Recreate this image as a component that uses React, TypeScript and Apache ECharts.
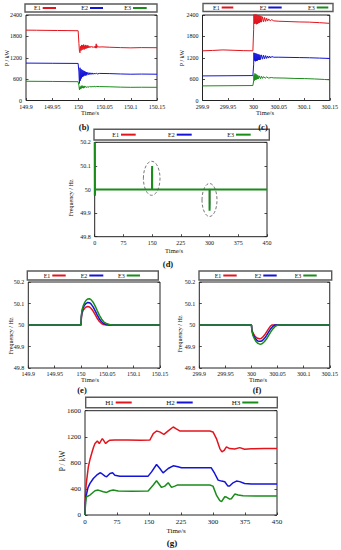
import React, { useEffect, useRef } from "react";
import * as echarts from "echarts";

const FONT = '"Liberation Serif", "Times New Roman", serif';
const RED = "#e3141c";
const BLUE = "#1414d8";
const GREEN = "#1a8c1a";

// (b) active power of ES units around t = 150 s
const bE1: [number, number][] = [
  [149.9, 1975], [149.92, 1972], [149.94, 1968], [149.96, 1965], [149.98, 1962], [149.9995, 1958],
  [150.001, 1600], [150.002, 1380], [150.003, 1340], [150.004, 1520], [150.005, 1400], [150.006, 1560],
  [150.007, 1420], [150.008, 1550], [150.009, 1440], [150.01, 1570], [150.011, 1430], [150.012, 1540],
  [150.013, 1450], [150.014, 1560], [150.015, 1460], [150.016, 1540], [150.017, 1470], [150.018, 1550],
  [150.019, 1480], [150.02, 1530], [150.022, 1480], [150.024, 1525], [150.026, 1490], [150.028, 1515],
  [150.03, 1480], [150.032, 1530], [150.033, 1470], [150.034, 1590], [150.035, 1470], [150.036, 1540],
  [150.038, 1500], [150.045, 1505], [150.06, 1495], [150.08, 1485], [150.1, 1478], [150.12, 1485], [150.15, 1482],
];
const bE2: [number, number][] = [
  [149.9, 1050], [149.95, 1045], [149.9995, 1040],
  [150.001, 800], [150.0015, 620], [150.002, 480], [150.003, 920], [150.004, 560], [150.005, 880],
  [150.006, 620], [150.007, 860], [150.008, 660], [150.009, 840], [150.01, 680], [150.011, 830],
  [150.012, 700], [150.013, 810], [150.014, 700], [150.015, 800], [150.016, 710], [150.018, 790],
  [150.02, 720], [150.022, 780], [150.024, 730], [150.026, 775], [150.028, 735], [150.03, 770],
  [150.032, 740], [150.034, 770], [150.036, 745], [150.04, 760], [150.06, 755], [150.08, 745],
  [150.1, 738], [150.12, 742], [150.15, 738],
];
const bE3: [number, number][] = [
  [149.9, 540], [149.95, 535], [149.9995, 528],
  [150.001, 420], [150.002, 300], [150.003, 380], [150.004, 320], [150.005, 410], [150.006, 340],
  [150.007, 420], [150.008, 350], [150.009, 400], [150.01, 345], [150.011, 410], [150.012, 360],
  [150.014, 400], [150.016, 360], [150.018, 395], [150.02, 370], [150.022, 400], [150.024, 375],
  [150.026, 395], [150.028, 380], [150.03, 400], [150.032, 385], [150.035, 395], [150.04, 390],
  [150.06, 385], [150.08, 375], [150.1, 370], [150.12, 372], [150.15, 370],
];

// (c) active power of ES units around t = 300 s
const cE1: [number, number][] = [
  [299.9, 1395], [299.92, 1405], [299.94, 1420], [299.96, 1410], [299.98, 1400], [299.999, 1395],
  [300.0005, 2000], [300.001, 2420], [300.002, 2150], [300.003, 2440], [300.004, 2160], [300.005, 2430],
  [300.006, 2140], [300.007, 2410], [300.008, 2150], [300.009, 2400], [300.01, 2170], [300.011, 2390],
  [300.012, 2180], [300.013, 2380], [300.014, 2200], [300.015, 2370], [300.016, 2200], [300.018, 2350],
  [300.02, 2210], [300.022, 2330], [300.024, 2220], [300.026, 2310], [300.028, 2230], [300.03, 2290],
  [300.033, 2235], [300.036, 2270], [300.04, 2235], [300.05, 2225], [300.07, 2215], [300.09, 2205],
  [300.11, 2200], [300.13, 2185], [300.15, 2165],
];
const cE2: [number, number][] = [
  [299.9, 690], [299.95, 695], [299.999, 700],
  [300.0005, 1000], [300.001, 1340], [300.002, 1120], [300.003, 1330], [300.004, 1100], [300.005, 1320],
  [300.006, 1110], [300.007, 1310], [300.008, 1120], [300.009, 1300], [300.01, 1140], [300.011, 1290],
  [300.012, 1140], [300.013, 1280], [300.014, 1150], [300.016, 1280], [300.018, 1160], [300.02, 1270],
  [300.022, 1170], [300.024, 1260], [300.026, 1180], [300.028, 1250], [300.03, 1190], [300.032, 1245],
  [300.034, 1195], [300.036, 1235], [300.04, 1215], [300.05, 1215], [300.07, 1210], [300.09, 1205],
  [300.11, 1200], [300.13, 1190], [300.15, 1180],
];
const cE3: [number, number][] = [
  [299.9, 410], [299.95, 415], [299.999, 420],
  [300.0005, 550], [300.001, 720], [300.002, 560], [300.003, 760], [300.004, 580], [300.005, 740],
  [300.006, 590], [300.007, 720], [300.008, 600], [300.009, 700], [300.01, 610], [300.012, 690],
  [300.014, 610], [300.016, 680], [300.018, 620], [300.02, 670], [300.023, 625], [300.026, 660],
  [300.03, 630], [300.035, 645], [300.04, 635], [300.06, 630], [300.08, 620], [300.1, 615],
  [300.12, 605], [300.14, 590], [300.15, 580],
];

// (d) frequency over the whole run
const dE1: [number, number][] = [
  [0, 50.2], [0.3, 49.975], [1, 50], [149.99, 50], [150.014, 50.08], [150.05, 50],
  [299.99, 50], [300.018, 49.935], [300.04, 50], [450, 50],
];
const dE2: [number, number][] = [
  [0, 50.2], [0.3, 49.975], [1, 50], [149.99, 50], [150.014, 50.09], [150.055, 50],
  [299.99, 50], [300.018, 49.92], [300.045, 50], [450, 50],
];
const dE3: [number, number][] = [
  [0, 50.2], [0.3, 49.975], [1, 50], [149.99, 50], [150.015, 50.1], [150.06, 50],
  [299.99, 50], [300.018, 49.91], [300.05, 50], [450, 50],
];

// (e) frequency around t = 150 s
const eE1: [number, number][] = [
  [149.9, 50], [150, 50], [150.0008, 50.035], [150.002, 50.055], [150.004, 50.068], [150.007, 50.078],
  [150.01, 50.084], [150.013, 50.086], [150.016, 50.084], [150.019, 50.078], [150.023, 50.065],
  [150.027, 50.048], [150.031, 50.03], [150.035, 50.016], [150.039, 50.007], [150.043, 50.002],
  [150.048, 50], [150.15, 50],
];
const eE2: [number, number][] = [
  [149.9, 50], [150, 50], [150.0008, 50.04], [150.002, 50.063], [150.004, 50.079], [150.007, 50.093],
  [150.01, 50.101], [150.013, 50.105], [150.016, 50.104], [150.019, 50.098], [150.023, 50.084],
  [150.027, 50.066], [150.031, 50.046], [150.035, 50.028], [150.039, 50.015], [150.043, 50.007],
  [150.048, 50.002], [150.054, 50], [150.15, 50],
];
const eE3: [number, number][] = [
  [149.9, 50], [150, 50], [150.0008, 50.045], [150.002, 50.07], [150.004, 50.088], [150.007, 50.105],
  [150.01, 50.116], [150.013, 50.121], [150.016, 50.122], [150.019, 50.118], [150.023, 50.106],
  [150.027, 50.088], [150.031, 50.066], [150.035, 50.045], [150.039, 50.028], [150.043, 50.015],
  [150.048, 50.007], [150.054, 50.002], [150.06, 50], [150.15, 50],
];

// (f) frequency around t = 300 s
const fE1: [number, number][] = [
  [299.9, 50], [300, 50], [300.0008, 49.978], [300.003, 49.962], [300.006, 49.95], [300.009, 49.942],
  [300.012, 49.938], [300.015, 49.936], [300.018, 49.937], [300.021, 49.942], [300.025, 49.953],
  [300.029, 49.968], [300.033, 49.983], [300.036, 49.994], [300.039, 50], [300.15, 50],
];
const fE2: [number, number][] = [
  [299.9, 50], [300, 50], [300.0008, 49.975], [300.003, 49.956], [300.006, 49.942], [300.009, 49.932],
  [300.012, 49.926], [300.015, 49.924], [300.018, 49.924], [300.021, 49.928], [300.025, 49.938],
  [300.029, 49.952], [300.033, 49.968], [300.037, 49.983], [300.041, 49.994], [300.045, 50], [300.15, 50],
];
const fE3: [number, number][] = [
  [299.9, 50], [300, 50], [300.0008, 49.972], [300.003, 49.95], [300.006, 49.934], [300.009, 49.922],
  [300.012, 49.915], [300.015, 49.912], [300.018, 49.911], [300.021, 49.914], [300.025, 49.923],
  [300.029, 49.936], [300.033, 49.952], [300.037, 49.968], [300.041, 49.982], [300.045, 49.992],
  [300.05, 49.999], [300.053, 50], [300.15, 50],
];

// (g) power of H units over the whole run
const gH1: [number, number][] = [
  [0, 0], [1, 300], [2.5, 450], [4, 535], [7.8, 739], [12, 860], [15.6, 943], [20, 1040], [23.4, 1096],
  [28.9, 1136], [33.5, 1096], [40.6, 1172], [44, 1140], [48.4, 1096], [53, 1125], [58.5, 1147], [70, 1150],
  [100, 1150], [130, 1148], [152, 1150], [156, 1200], [160, 1249], [167.7, 1289], [175, 1275],
  [184.9, 1238], [195, 1290], [206.7, 1350], [214, 1320], [222, 1289], [240, 1290], [270, 1290],
  [292.5, 1288], [300, 1274], [308, 1172], [316, 1019], [321, 968], [326, 990], [331.5, 1045], [339, 1019],
  [351, 1012], [362.7, 1034], [374, 1009], [390, 1015], [420, 1019], [450, 1019],
];
const gH2: [number, number][] = [
  [0, 0], [1, 200], [2.5, 300], [4, 331], [7, 420], [11.7, 484], [19.5, 560], [27.3, 611], [35, 647],
  [39, 637], [46.8, 596], [50.7, 586], [58.5, 637], [64.7, 647], [70, 611], [82, 596], [110, 596],
  [148, 596], [156, 662], [167.7, 775], [175.5, 713], [183, 647], [195, 713], [206.7, 754], [218, 739],
  [226, 724], [260, 724], [296, 724], [304, 637], [312, 535], [320, 520], [327.6, 510], [335, 443],
  [339, 445], [347, 494], [355, 520], [362.7, 512], [374, 484], [390, 476], [450, 474],
];
const gH3: [number, number][] = [
  [0, 0], [1, 150], [2.5, 260], [4, 280], [11.7, 306], [23.4, 372], [31, 382], [43, 357], [50.7, 346],
  [58.5, 372], [66, 382], [78, 367], [110, 365], [148, 367], [160, 459], [167.7, 525], [179.4, 423],
  [187, 443], [195, 494], [202.8, 423], [210.6, 443], [216, 459], [250, 459], [292.5, 459], [300, 443],
  [308, 306], [316, 219], [320, 204], [327.6, 280], [331.5, 275], [339, 245], [343, 250], [351, 321],
  [359, 306], [370.5, 296], [400, 292], [450, 290],
];

const E_NAMES = ["E1", "E2", "E3"];
const H_NAMES = ["H1", "H2", "H3"];
const COLORS = [RED, BLUE, GREEN];

type Panel = {
  grid: { left: number; top: number; width: number; height: number };
  x: { min: number; max: number; interval: number; dec: number };
  y: { min: number; max: number; interval: number; dec: number };
  series: [number, number][][];
  lw: number[];
  fs: number;
};

const panels: Panel[] = [
  { grid: { left: 26, top: 15, width: 131, height: 85.5 }, x: { min: 149.9, max: 150.15, interval: 0.05, dec: 2 }, y: { min: 0, max: 2400, interval: 600, dec: 0 }, series: [bE1, bE2, bE3], lw: [1, 1, 1], fs: 6 },
  { grid: { left: 202.5, top: 15, width: 129.5, height: 85.5 }, x: { min: 299.9, max: 300.15, interval: 0.05, dec: 2 }, y: { min: 0, max: 2400, interval: 600, dec: 0 }, series: [cE1, cE2, cE3], lw: [1, 1, 1], fs: 6 },
  { grid: { left: 94.7, top: 142.3, width: 172.3, height: 94.4 }, x: { min: 0, max: 450, interval: 75, dec: 0 }, y: { min: 49.8, max: 50.2, interval: 0.1, dec: 1 }, series: [dE1, dE2, dE3], lw: [1.2, 1.2, 2], fs: 6 },
  { grid: { left: 28.3, top: 282, width: 131.7, height: 86 }, x: { min: 149.9, max: 150.15, interval: 0.05, dec: 2 }, y: { min: 49.8, max: 50.2, interval: 0.1, dec: 1 }, series: [eE1, eE2, eE3], lw: [1.5, 1.5, 1.5], fs: 6 },
  { grid: { left: 199.3, top: 282, width: 130.7, height: 86 }, x: { min: 299.9, max: 300.15, interval: 0.05, dec: 2 }, y: { min: 49.8, max: 50.2, interval: 0.1, dec: 1 }, series: [fE1, fE2, fE3], lw: [1.5, 1.5, 1.5], fs: 6 },
  { grid: { left: 85, top: 410.7, width: 192, height: 104.3 }, x: { min: 0, max: 450, interval: 75, dec: 0 }, y: { min: 0, max: 1600, interval: 400, dec: 0 }, series: [gH1, gH2, gH3], lw: [1.5, 1.5, 1.5], fs: 7 },
];

const fmt = (dec: number) => (v: number) => String(parseFloat(v.toFixed(dec)));

function txt(x: number, y: number, text: string, size: number, opts: any = {}) {
  return {
    type: "text",
    x,
    y,
    rotation: opts.rotation || 0,
    silent: true,
    z: 100,
    style: {
      text,
      fill: "#111",
      fontSize: size,
      fontFamily: FONT,
      fontWeight: opts.bold ? "bold" : "normal",
      align: opts.align || "center",
      verticalAlign: "middle",
      textAlign: opts.align || "center",
      textVerticalAlign: "middle",
    },
  };
}

function legend(x0: number, y0: number, x1: number, y1: number, names: string[], lines: [number, number][], size: number) {
  const cy = (y0 + y1) / 2;
  const els: any[] = [
    {
      type: "rect",
      silent: true,
      z: 90,
      shape: { x: x0, y: y0, width: x1 - x0, height: y1 - y0 },
      style: { fill: "#fff", stroke: "#5a5a5a", lineWidth: 1.4 },
    },
  ];
  names.forEach((n, i) => {
    const [a, b] = lines[i];
    els.push(txt(a - 2, cy, n, size, { align: "right" }));
    els.push({
      type: "line",
      silent: true,
      z: 100,
      shape: { x1: a, y1: cy, x2: b, y2: cy },
      style: { stroke: COLORS[i], lineWidth: 2 },
    });
  });
  return els;
}

export default function App() {
  const ref = useRef<HTMLDivElement>(null);
  useEffect(() => {
    if (!ref.current) return;
    const chart = echarts.init(ref.current, undefined, { renderer: "svg" });
    const grid: any[] = [];
    const xAxis: any[] = [];
    const yAxis: any[] = [];
    const series: any[] = [];
    panels.forEach((p, i) => {
      grid.push({ ...p.grid, show: true, borderColor: "#222", borderWidth: 1, backgroundColor: "#fff" });
      const tick = { show: true, inside: true, length: 2.5, lineStyle: { color: "#222", width: 0.8 } };
      xAxis.push({
        gridIndex: i, type: "value", min: p.x.min, max: p.x.max, interval: p.x.interval,
        axisLine: { show: false }, axisTick: tick, splitLine: { show: false },
        axisLabel: { fontSize: p.fs, fontFamily: FONT, color: "#111", margin: 3, formatter: fmt(p.x.dec) },
      });
      yAxis.push({
        gridIndex: i, type: "value", position: "left", min: p.y.min, max: p.y.max, interval: p.y.interval,
        axisLine: { show: false }, axisTick: tick, splitLine: { show: false },
        axisLabel: { fontSize: p.fs, fontFamily: FONT, color: "#111", margin: 4, formatter: fmt(p.y.dec) },
      });
      yAxis.push({
        gridIndex: i, type: "value", position: "right", min: p.y.min, max: p.y.max, interval: p.y.interval,
        axisLine: { show: false }, axisTick: tick, splitLine: { show: false }, axisLabel: { show: false },
      });
      const names = i === 5 ? H_NAMES : E_NAMES;
      p.series.forEach((d, k) => {
        series.push({
          type: "line", name: names[k], xAxisIndex: i, yAxisIndex: 2 * i, data: d,
          showSymbol: false, symbol: "none", clip: true,
          lineStyle: { color: COLORS[k], width: p.lw[k] }, itemStyle: { color: COLORS[k] },
        });
      });
    });

    const graphic: any[] = [
      ...legend(25, 4, 157, 12, E_NAMES, [[42.7, 56], [90, 103], [133, 146.7]], 6),
      ...legend(203, 3.5, 333, 11.5, E_NAMES, [[221.7, 233.3], [268.3, 281.7], [316.7, 328.3]], 6),
      ...legend(94, 129.3, 269.3, 140, E_NAMES, [[121, 135.7], [176.7, 191.7], [236, 250.7]], 6),
      ...legend(27.3, 271, 158.3, 280, E_NAMES, [[52.3, 65.7], [89.3, 103.3], [126.7, 140]], 6),
      ...legend(199, 271, 331.7, 280, E_NAMES, [[223.3, 236.7], [263.3, 276.7], [303.3, 316.7]], 6),
      ...legend(85.7, 397.3, 277.3, 407.7, H_NAMES, [[115.7, 131.7], [176.7, 192.7], [242.3, 258.3]], 7),
      txt(6.5, 58, "P / kW", 6, { rotation: Math.PI / 2 }),
      txt(182, 58, "P / kW", 6, { rotation: Math.PI / 2 }),
      txt(71, 198, "Frequency / Hz", 6, { rotation: Math.PI / 2 }),
      txt(11, 336, "Frequency / Hz", 6, { rotation: Math.PI / 2 }),
      txt(180, 334, "Frequency / Hz", 6, { rotation: Math.PI / 2 }),
      txt(62.5, 461, "P / kW", 7.5, { rotation: Math.PI / 2 }),
      txt(90, 112.5, "Time/s", 6.5),
      txt(265, 112.5, "Time/s", 6.5),
      txt(174, 250, "Time/s", 6.5),
      txt(90, 379, "Time/s", 6.5),
      txt(258, 379, "Time/s", 6.5),
      txt(176, 530.5, "Time/s", 7),
      txt(84, 127, "(b)", 8.5, { bold: true }),
      txt(263, 126.5, "(c)", 8.5, { bold: true }),
      txt(168, 263.5, "(d)", 8.5, { bold: true }),
      txt(82, 389.5, "(e)", 8.5, { bold: true }),
      txt(257, 389.5, "(f)", 8.5, { bold: true }),
      txt(172, 543, "(g)", 9, { bold: true }),
      {
        type: "ellipse", silent: true, z: 95,
        shape: { cx: 151.7, cy: 178.3, rx: 8.3, ry: 17 },
        style: { fill: "none", stroke: "#555", lineWidth: 0.8, lineDash: [3, 2] },
      },
      {
        type: "ellipse", silent: true, z: 95,
        shape: { cx: 209.5, cy: 200, rx: 7.5, ry: 16.5 },
        style: { fill: "none", stroke: "#555", lineWidth: 0.8, lineDash: [3, 2] },
      },
    ];

    chart.setOption({
      animation: false,
      backgroundColor: "#fff",
      grid,
      xAxis,
      yAxis,
      series,
      graphic,
    });
    return () => chart.dispose();
  }, []);
  return (
    <div
      ref={ref}
      style={{ position: "absolute", left: 0, top: 0, width: 341, height: 550, background: "#fff" }}
    />
  );
}
